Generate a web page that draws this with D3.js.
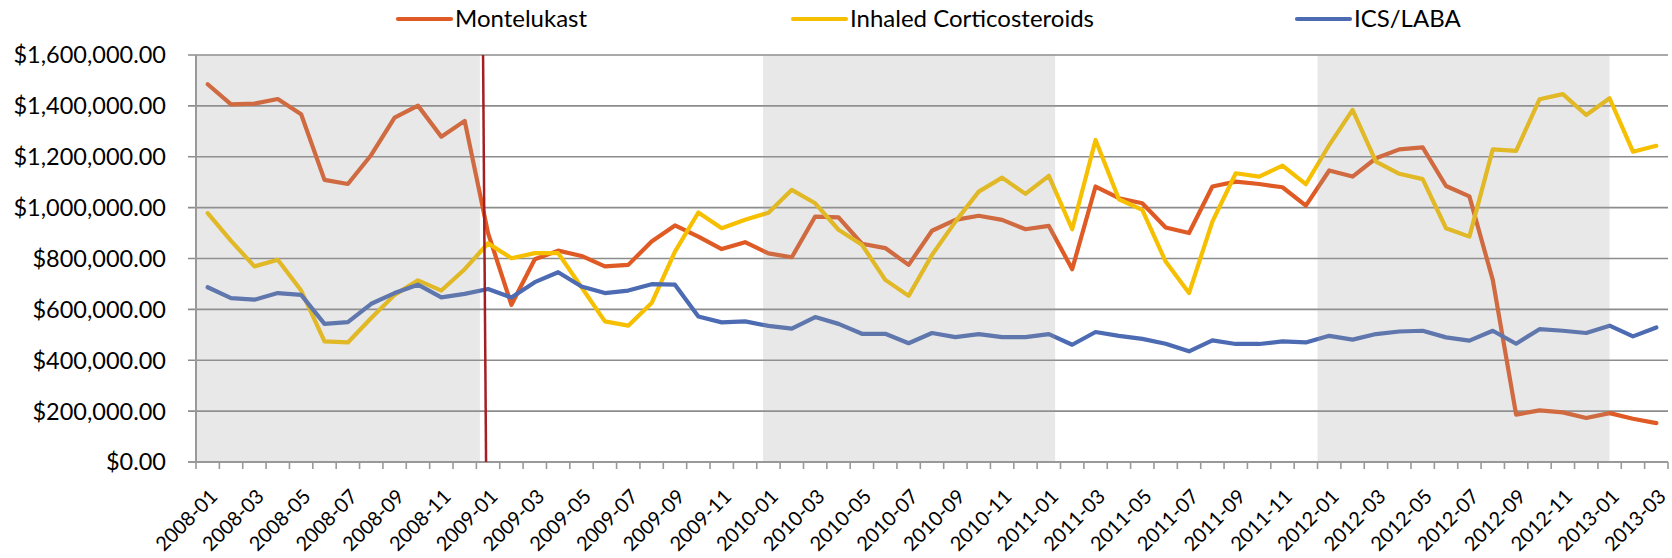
<!DOCTYPE html>
<html>
<head>
  <meta charset="UTF-8">
  <style>
      body { margin: 0; background: #fff; }
      text { font-family: Lato, "Open Sans", sans-serif; fill: #000; }
  </style>
</head>
<body>
<svg></svg>
<script src="https://d3js.org/d3.v7.min.js"></script>

<script>
let width = 1672, height = 558;

// months on the category axis
var months = [
  "2008-01","2008-02","2008-03","2008-04","2008-05","2008-06","2008-07","2008-08","2008-09","2008-10","2008-11","2008-12",
  "2009-01","2009-02","2009-03","2009-04","2009-05","2009-06","2009-07","2009-08","2009-09","2009-10","2009-11","2009-12",
  "2010-01","2010-02","2010-03","2010-04","2010-05","2010-06","2010-07","2010-08","2010-09","2010-10","2010-11","2010-12",
  "2011-01","2011-02","2011-03","2011-04","2011-05","2011-06","2011-07","2011-08","2011-09","2011-10","2011-11","2011-12",
  "2012-01","2012-02","2012-03","2012-04","2012-05","2012-06","2012-07","2012-08","2012-09","2012-10","2012-11","2012-12",
  "2013-01","2013-02","2013-03"];

var montelukast = [
  1485000,1406000,1409000,1427000,1367000,1109000,1093000,1207000,1354000,1401000,1279000,1341000,
  900000,618000,797000,831000,810000,769000,775000,867000,930000,886000,837000,864000,
  820000,805000,965000,962000,858000,841000,775000,909000,952000,968000,952000,915000,
  928000,758000,1083000,1037000,1017000,922000,900000,1083000,1102000,1093000,1080000,1008000,
  1146000,1122000,1194000,1229000,1237000,1085000,1044000,716000,186000,203000,195000,173000,
  192000,170000,153000];

var inhaledCS = [
  978000,869000,769000,795000,674000,474000,470000,566000,657000,714000,674000,758000,
  860000,801000,821000,821000,687000,553000,536000,625000,827000,981000,919000,952000,
  980000,1070000,1017000,913000,854000,716000,653000,814000,945000,1063000,1118000,1054000,
  1125000,915000,1266000,1033000,991000,788000,664000,945000,1135000,1122000,1165000,1092000,
  1246000,1384000,1181000,1133000,1112000,919000,886000,1229000,1223000,1426000,1446000,1364000,
  1430000,1220000,1243000];

var icsLaba = [
  687000,644000,638000,664000,657000,543000,550000,622000,664000,697000,647000,661000,
  680000,647000,707000,746000,690000,664000,674000,699000,697000,572000,549000,553000,
  535000,524000,570000,543000,504000,504000,467000,507000,491000,503000,491000,491000,
  503000,461000,511000,496000,484000,465000,435000,478000,464000,464000,474000,470000,
  496000,481000,503000,513000,516000,490000,477000,516000,465000,522000,516000,507000,
  536000,494000,529000];

var seriesNames = ["Montelukast", "Inhaled Corticosteroids", "ICS/LABA"];
var seriesColors = ["#DF5A24", "#F6C000", "#4C6BB2"];

// shaded periods and the marker month
var shadeFrom = ["2008-01", "2010-01", "2012-01"];
var shadeTo   = ["2009-01", "2011-01", "2013-01"];
var markerMonth = "2009-01";

var yTicks = [0, 200000, 400000, 600000, 800000, 1000000, 1200000, 1400000, 1600000];

let svg = d3.select("svg")
    .attr("width", width)
    .attr("height", height);

// plot area (window.top is taken, so use other names)
var pL = 196, pR = 1668, pT = 55, pB = 462;

var x = d3.scaleBand().domain(months).range([pL, pR]).padding(0);
var y = d3.scaleLinear().domain([0, 1600000]).range([pB, pT]);
var bw = x.bandwidth();
var cx = d => x(d) + bw / 2;

// gridlines
svg.append("g")
    .selectAll("line")
    .data(yTicks)
    .enter()
    .append("line")
    .attr("x1", pL - 8)
    .attr("x2", pR)
    .attr("y1", d => y(d))
    .attr("y2", d => y(d))
    .attr("stroke", "#8c8c8c")
    .attr("stroke-width", 1.6);

// y labels
var fmt = d3.format("$,.2f");
svg.append("g")
    .selectAll("text")
    .data(yTicks)
    .enter()
    .append("text")
    .attr("x", pL - 30)
    .attr("y", d => y(d))
    .attr("dy", "0.36em")
    .attr("text-anchor", "end")
    .style("font-size", "23.5px")
    .text(d => fmt(d));

// lines
var allSeries = [montelukast, inhaledCS, icsLaba];
var line = d3.line()
    .x((d, i) => cx(months[i]))
    .y(d => y(d));

svg.append("g")
    .selectAll("path")
    .data(allSeries)
    .enter()
    .append("path")
    .attr("d", line)
    .attr("fill", "none")
    .attr("stroke", (d, i) => seriesColors[i])
    .attr("stroke-width", 4.2)
    .attr("stroke-linejoin", "round")
    .attr("stroke-linecap", "round");

// shaded periods, laid over the lines
// (first one stops at the marker, second sits a little later in its year)
var shadeX0 = (d, i) => x(d) + (i == 1 ? 0.27 * bw : 0);
var shadeX1 = (d, i) => x(shadeTo[i]) + (i == 0 ? 0.15 : i == 1 ? 0.77 : 0.5) * bw;
svg.append("g")
    .selectAll("rect")
    .data(shadeFrom)
    .enter()
    .append("rect")
    .attr("x", shadeX0)
    .attr("y", pT)
    .attr("width", (d, i) => shadeX1(d, i) - shadeX0(d, i))
    .attr("height", pB - pT)
    .attr("fill", "#a0a0a0")
    .attr("opacity", 0.24);

// axes lines
svg.append("line")
    .attr("x1", pL).attr("x2", pL)
    .attr("y1", pT).attr("y2", pB)
    .attr("stroke", "#999").attr("stroke-width", 2);
svg.append("line")
    .attr("x1", pL - 8).attr("x2", pR)
    .attr("y1", pB).attr("y2", pB)
    .attr("stroke", "#999").attr("stroke-width", 2);

// x ticks at category edges
svg.append("g")
    .selectAll("line")
    .data(months.concat(["end"]))
    .enter()
    .append("line")
    .attr("x1", (d, i) => pL + i * bw)
    .attr("x2", (d, i) => pL + i * bw)
    .attr("y1", pB)
    .attr("y2", pB + 7)
    .attr("stroke", "#999")
    .attr("stroke-width", 1.6);

// x labels, every other month
svg.append("g")
    .selectAll("text")
    .data(months.filter((d, i) => i % 2 == 0))
    .enter()
    .append("text")
    .attr("transform", d => "translate(" + (cx(d) + 1) + "," + (pB + 26) + ") rotate(-45)")
    .attr("text-anchor", "end")
    .attr("dy", "0.7em")
    .style("font-size", "20px")
    .text(d => d);

// marker line
var mx = cx(markerMonth);
svg.append("line")
    .attr("x1", mx - 5).attr("x2", mx - 2)
    .attr("y1", pT).attr("y2", pB)
    .attr("stroke", "#A31F26")
    .attr("stroke-width", 2.5);

// legend
var legendX = [398, 793, 1297];
var legend = svg.selectAll(".legend")
    .data(seriesNames)
    .enter()
    .append("g")
    .attr("class", "legend")
    .attr("transform", (d, i) => "translate(" + legendX[i] + ",19)");

legend.append("line")
    .attr("x1", 0).attr("x2", 53)
    .attr("stroke", (d, i) => seriesColors[i])
    .attr("stroke-width", 4.2)
    .attr("stroke-linecap", "round");

legend.append("text")
    .attr("x", 57)
    .attr("dy", "0.35em")
    .style("font-size", "24px")
    .text(d => d);
</script>

</body>
</html>
